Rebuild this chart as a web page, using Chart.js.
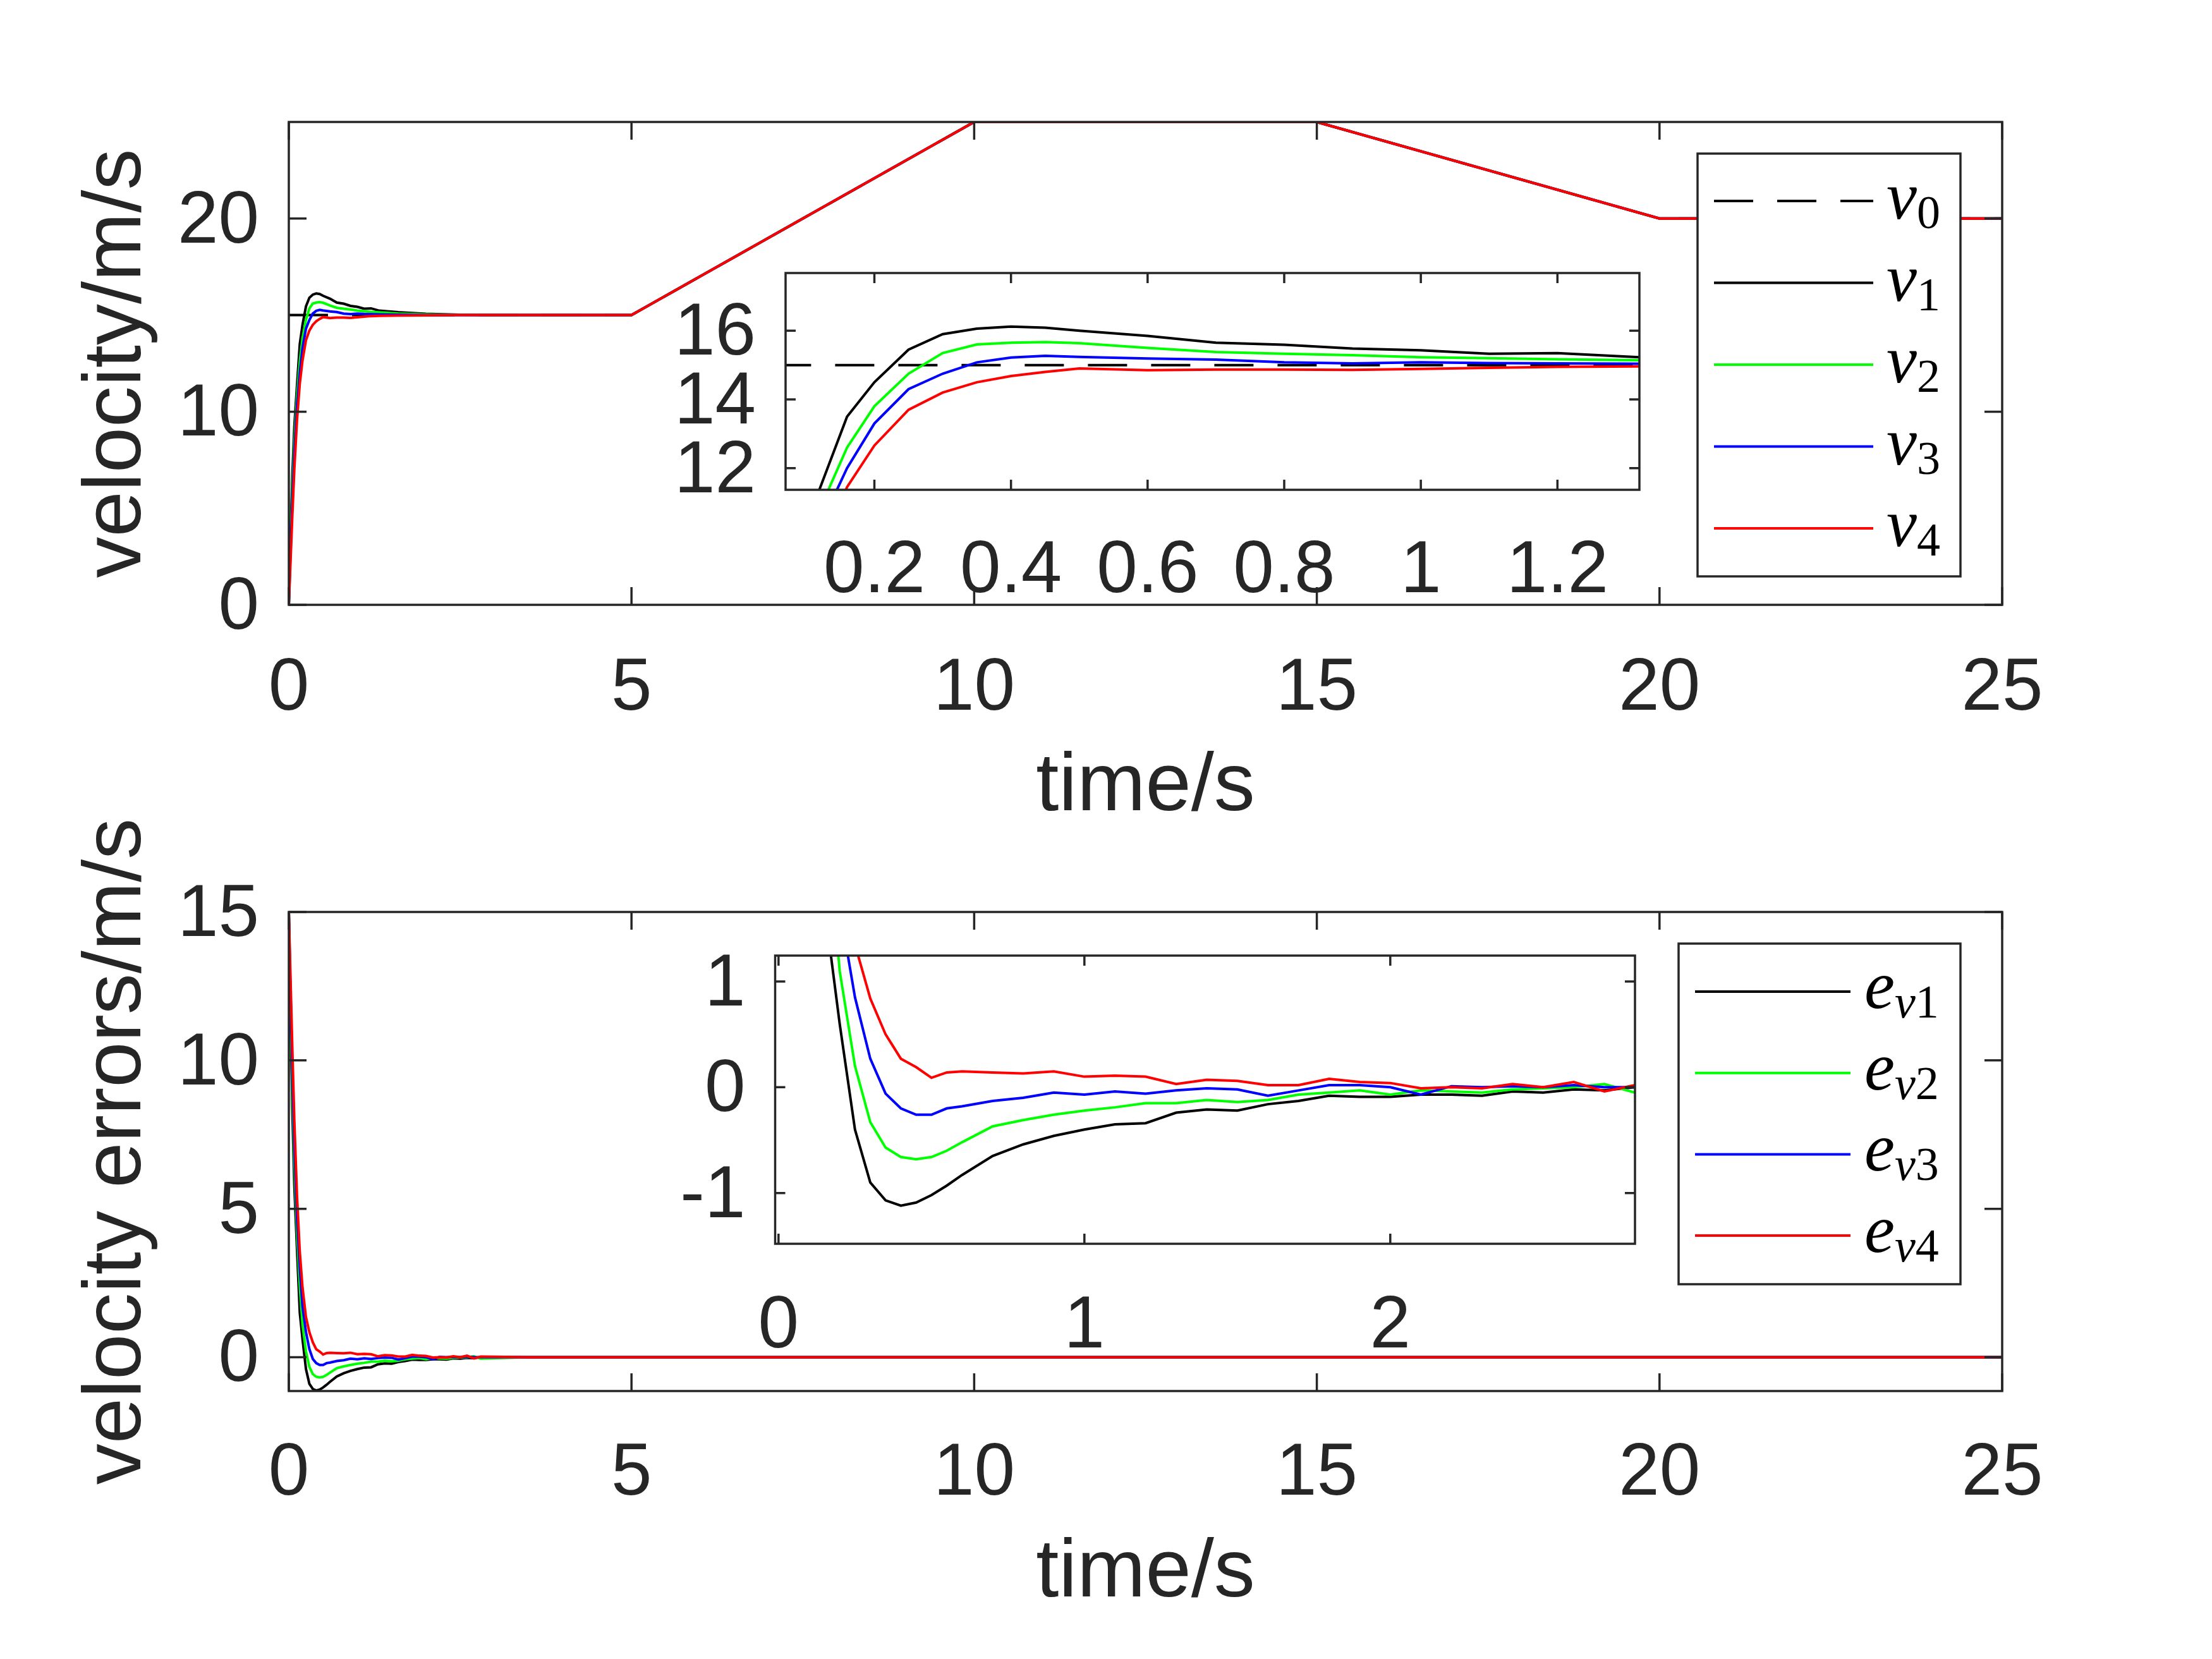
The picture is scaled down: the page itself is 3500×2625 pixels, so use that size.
<!DOCTYPE html>
<html><head><meta charset="utf-8">
<script src="https://cdn.jsdelivr.net/npm/chart.js@4.4.1/dist/chart.umd.min.js"></script>
<style>
html,body{margin:0;padding:0;background:#fff;width:3500px;height:2625px;overflow:hidden}
canvas{position:absolute}
</style>
</head><body>
<canvas id="cTop" width="3500" height="1330" style="left:0px;top:0px"></canvas>
<canvas id="cTopInset" width="1744" height="683" style="left:1000px;top:312px"></canvas>
<canvas id="cBot" width="3500" height="1425" style="left:0px;top:1200px"></canvas>
<canvas id="cBotInset" width="1737" height="796" style="left:1000px;top:1392px"></canvas>
<script>
// ---------------- data ----------------
const tTop = [0,0.02,0.05,0.08,0.12,0.16,0.2,0.25,0.3,0.35,0.4,0.45,0.5,0.6,0.7,0.8,0.9,1.0,1.1,1.2,1.32,1.6,2.0,2.5,3.0,5,10,15,20,25];
const v0 = [15,15,15,15,15,15,15,15,15,15,15,15,15,15,15,15,15,15,15,15,15,15,15,15,15,15,25,25,20,20];
const v1 = [0,3.0,6.6,9.2,11.4,13.5,14.5,15.45,15.9,16.06,16.12,16.09,16.0,15.85,15.65,15.59,15.48,15.43,15.33,15.35,15.23,15.15,15.07,15.02,15,15,25,25,20,20];
const v2 = [0,2.5,5.8,8.4,10.8,12.6,13.8,14.75,15.35,15.6,15.65,15.67,15.64,15.5,15.38,15.33,15.29,15.23,15.2,15.17,15.14,15.08,15.04,15.01,15,15,25,25,20,20];
const v3 = [0,2.2,5.2,7.8,10.3,12.0,13.3,14.3,14.75,15.08,15.22,15.27,15.24,15.19,15.16,15.08,15.05,15.08,15.06,15.05,15.04,15.02,15.0,15.0,15,15,25,25,20,20];
const v4 = [0,1.8,4.5,7.0,9.6,11.45,12.66,13.7,14.2,14.5,14.68,14.8,14.9,14.85,14.87,14.87,14.86,14.89,14.92,14.95,14.96,14.98,14.99,15.0,15,15,25,25,20,20];

const tErr = [0,0.02,0.05,0.08,0.12,0.16,0.2,0.25,0.3,0.35,0.4,0.45,0.5,0.55,0.6,0.7,0.8,0.9,1.0,1.1,1.2,1.3,1.4,1.5,1.6,1.7,1.8,1.9,2.0,2.1,2.2,2.3,2.4,2.5,2.6,2.7,2.8,3.5,5,10,15,20,25];
const e1 = [15,12.0,8.4,5.8,3.6,1.5,0.6,-0.4,-0.9,-1.07,-1.12,-1.09,-1.02,-0.93,-0.83,-0.65,-0.54,-0.46,-0.40,-0.35,-0.34,-0.24,-0.21,-0.22,-0.16,-0.13,-0.08,-0.09,-0.09,-0.07,-0.07,-0.08,-0.04,-0.05,-0.02,-0.03,0.0,0,0,0,0,0,0];
const e2 = [15,12.5,9.2,6.6,4.2,2.4,1.1,0.2,-0.33,-0.57,-0.66,-0.68,-0.66,-0.6,-0.52,-0.37,-0.31,-0.26,-0.22,-0.19,-0.15,-0.15,-0.12,-0.14,-0.12,-0.07,-0.05,-0.03,-0.07,-0.03,-0.04,-0.05,-0.02,-0.01,0.0,0.03,-0.05,0,0,0,0,0,0];
const e3 = [15,12.8,9.8,7.2,4.7,3.0,1.7,0.85,0.27,-0.06,-0.2,-0.26,-0.26,-0.2,-0.18,-0.13,-0.1,-0.05,-0.07,-0.04,-0.06,-0.03,-0.01,-0.02,-0.08,-0.03,0.02,0.02,0.0,-0.07,0.01,0.0,0.01,0.0,0.02,0.0,0.0,0,0,0,0,0,0];
const e4 = [15,13.2,10.5,8.0,5.4,3.55,2.34,1.35,0.84,0.5,0.27,0.19,0.09,0.14,0.15,0.14,0.13,0.15,0.1,0.11,0.1,0.03,0.07,0.06,0.02,0.02,0.08,0.05,0.04,-0.01,0.0,-0.01,0.03,0.0,0.05,-0.04,0.02,0,0,0,0,0,0];

const mainXTicks = [0,5,10,15,20,25];
const mainXLabels = ['0','5','10','15','20','25'];
const topYTicks = [0,10,20];
const topYLabels = ['0','10','20'];
const botYTicks = [0,5,10,15];
const botYLabels = ['0','5','10','15'];
const insTopXTicks = [0.2,0.4,0.6,0.8,1.0,1.2];
const insTopXLabels = ['0.2','0.4','0.6','0.8','1','1.2'];
const insTopYTicks = [12,14,16];
const insTopYLabels = ['12','14','16'];
const insBotXTicks = [0,1,2];
const insBotXLabels = ['0','1','2'];
const insBotYTicks = [-1,0,1];
const insBotYLabels = ['-1','0','1'];

const velNames = ['v','v','v','v','v'];
const velSubs = ['0','1','2','3','4'];
const errNames = ['e','e','e','e'];
const errSubs = ['v1','v2','v3','v4'];

// ---------------- styles ----------------
const AX = '#262626';
const velColors = ['#000000','#000000','#00ff00','#0000ff','#ff0000'];
const errColors = ['#000000','#00ff00','#0000ff','#ff0000'];
const LW = 4;
Chart.defaults.font.family = "'Liberation Sans', Arial, sans-serif";
Chart.defaults.color = AX;

function pts(ts, ys){ return ts.map((t,i)=>({x:t, y:ys[i]})); }

function velDatasets(){
  const ser = [v0,v1,v2,v3,v4];
  return ser.map((s,i)=>({
    label: velNames[i]+velSubs[i], data: pts(tTop, s),
    borderColor: velColors[i], borderWidth: LW, borderDash: i===0?[62,38]:[],
    pointRadius:0, tension:0, fill:false, order: 4-i
  }));
}
function errDatasets(){
  const ser = [e1,e2,e3,e4];
  return ser.map((s,i)=>({
    label: errNames[i]+errSubs[i], data: pts(tErr, s),
    borderColor: errColors[i], borderWidth: LW, borderDash: [],
    pointRadius:0, tension:0, fill:false, order: 3-i
  }));
}

const framePlugin = {
  id:'frame',
  beforeDatasetsDraw(chart, args, o){
    if(!o.fill) return;
    const {ctx, chartArea:a} = chart;
    ctx.save(); ctx.fillStyle='#fff';
    ctx.fillRect(a.left, a.top, a.right-a.left, a.bottom-a.top);
    ctx.restore();
  },
  afterDatasetsDraw(chart, args, o){
    const {ctx, chartArea:a, scales:{x,y}} = chart;
    const L = o.tick;
    ctx.save();
    ctx.strokeStyle = AX; ctx.lineWidth = o.lw; ctx.setLineDash([]);
    ctx.beginPath();
    x.ticks.forEach(t=>{
      const p = x.getPixelForValue(t.value);
      ctx.moveTo(p, a.bottom); ctx.lineTo(p, a.bottom-L);
      ctx.moveTo(p, a.top); ctx.lineTo(p, a.top+L);
    });
    y.ticks.forEach(t=>{
      const p = y.getPixelForValue(t.value);
      ctx.moveTo(a.left, p); ctx.lineTo(a.left+L, p);
      ctx.moveTo(a.right, p); ctx.lineTo(a.right-L, p);
    });
    ctx.stroke();
    ctx.strokeRect(a.left, a.top, a.right-a.left, a.bottom-a.top);
    ctx.restore();
  }
};

const legendPlugin = {
  id:'mlegend',
  afterDraw(chart, args, o){
    if(!o.show) return;
    const ctx = chart.ctx;
    ctx.save();
    ctx.fillStyle='#fff'; ctx.fillRect(o.x0, o.y0, o.x1-o.x0, o.y1-o.y0);
    ctx.strokeStyle=AX; ctx.lineWidth=3.5; ctx.setLineDash([]);
    ctx.strokeRect(o.x0, o.y0, o.x1-o.x0, o.y1-o.y0);
    chart.data.datasets.forEach((ds,i)=>{
      const ly = o.row0 + i*o.rowStep;
      ctx.strokeStyle = ds.borderColor; ctx.lineWidth = ds.borderWidth;
      ctx.setLineDash(ds.borderDash||[]);
      ctx.beginPath(); ctx.moveTo(o.lx0, ly); ctx.lineTo(o.lx1, ly); ctx.stroke();
      ctx.setLineDash([]);
      const main = o.names[i], sub = o.subs[i];
      const by = ly + o.baseOff;
      ctx.fillStyle='#000'; ctx.textAlign='left'; ctx.textBaseline='alphabetic';
      ctx.font = `italic ${o.size}px 'Liberation Serif', serif`;
      ctx.fillText(main, o.tx, by);
      let cx = o.tx + ctx.measureText(main).width;
      for(const ch of sub){
        ctx.font = (/[a-z]/i.test(ch)?'italic ':'') + `${o.subSize}px 'Liberation Serif', serif`;
        ctx.fillText(ch, cx, by + o.subDrop);
        cx += ctx.measureText(ch).width;
      }
    });
    ctx.restore();
  }
};

function xScale(min,max,ticks,labels,h,pad,title,titlePadB){
  return {
    type:'linear', min, max,
    afterBuildTicks: s=>{ s.ticks = ticks.map(v=>({value:v})); },
    afterFit: s=>{ s.height = h; },
    grid:{display:false, drawTicks:false}, border:{display:false},
    ticks:{autoSkip:false, maxRotation:0, minRotation:0, padding:pad, color:AX, font:{size:116}, callback:(v,i)=>labels[i]},
    title: title ? {display:true, text:title, color:AX, font:{size:130}, padding:{top:0,bottom:titlePadB}} : {display:false}
  };
}
function yScale(min,max,ticks,labels,w,pad,title,titlePadT){
  return {
    type:'linear', min, max,
    afterBuildTicks: s=>{ s.ticks = ticks.map(v=>({value:v})); },
    afterFit: s=>{ s.width = w; },
    grid:{display:false, drawTicks:false}, border:{display:false},
    ticks:{autoSkip:false, padding:pad, labelOffset:6, color:AX, font:{size:116}, callback:(v,i)=>labels[i]},
    title: title ? {display:true, text:title, color:AX, font:{size:130}, padding:{top:titlePadT,bottom:0}} : {display:false}
  };
}

function make(id, datasets, scales, padding, frame, legend){
  return new Chart(document.getElementById(id), {
    type:'line',
    data:{datasets},
    options:{
      responsive:false, animation:false, devicePixelRatio:1,
      layout:{padding},
      scales,
      plugins:{legend:{display:false}, tooltip:{enabled:false}, frame, mlegend: legend}
    },
    plugins:[framePlugin, legendPlugin]
  });
}

// top main
make('cTop', velDatasets(), {
  x: xScale(0,25,mainXTicks,mainXLabels,373,64,'time/s',6),
  y: yScale(0,25,topYTicks,topYLabels,457,47,'velocity/m/s',108)
}, {left:0, top:193, right:332, bottom:0}, {tick:28, lw:3.5, fill:false},
{show:true, x0:2686, y0:243, x1:3102, y1:912, row0:318, rowStep:129.5, lx0:2712, lx1:2964, tx:2985, baseOff:28,
 size:108, subSize:74, subDrop:15, names:velNames, subs:velSubs});

// top inset
make('cTopInset', velDatasets(), {
  x: xScale(0.07,1.32,insTopXTicks,insTopXLabels,220,60,null,0),
  y: yScale(11.37,17.68,insTopYTicks,insTopYLabels,243,47,null,0)
}, {left:0, top:120, right:150, bottom:0}, {tick:16, lw:3.5, fill:true}, {show:false});

// bottom main (canvas starts at y=1200)
make('cBot', errDatasets(), {
  x: xScale(0,25,mainXTicks,mainXLabels,424,62,'time/s',57),
  y: yScale(-1.14,15,botYTicks,botYLabels,457,47,'velocity errors/m/s',108)
}, {left:0, top:243, right:332, bottom:0}, {tick:28, lw:3.5, fill:false},
{show:true, x0:2656, y0:1493-1200, x1:3102, y1:2032-1200, row0:1569-1200, rowStep:128.7, lx0:2682, lx1:2928, tx:2950, baseOff:26,
 size:108, subSize:74, subDrop:15, names:errNames, subs:errSubs});

// bottom inset
make('cBotInset', errDatasets(), {
  x: xScale(-0.011,2.8,insBotXTicks,insBotXLabels,220,62,null,0),
  y: yScale(-1.48,1.245,insBotYTicks,insBotYLabels,226.5,47,null,0)
}, {left:0, top:120, right:150, bottom:0}, {tick:16, lw:3.5, fill:true}, {show:false});
</script>
</body></html>
